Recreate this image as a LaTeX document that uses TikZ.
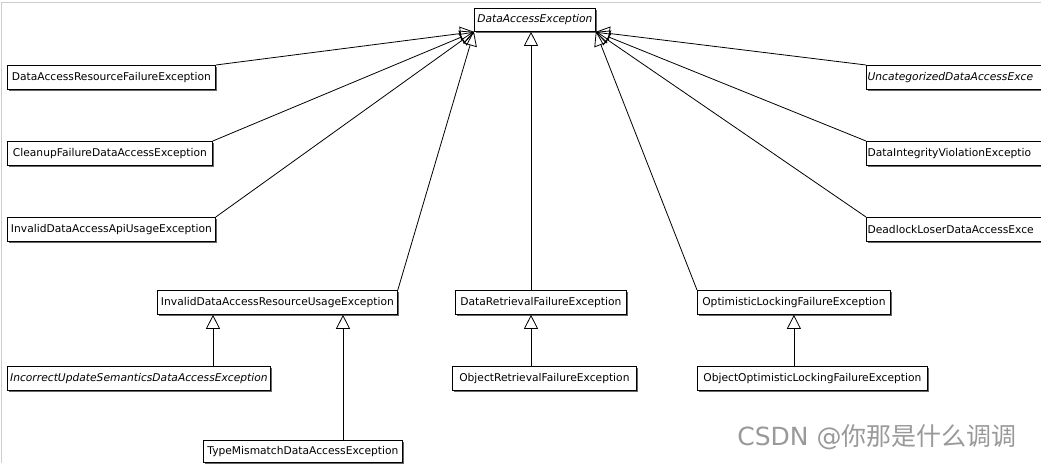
\documentclass[tikz,border=0pt]{standalone}
\usepackage{fontspec}
\setmainfont{DejaVu Sans}
\newfontfamily\cjk{Noto Sans CJK SC}
\usetikzlibrary{arrows.meta,shadows}

\begin{document}
\begin{tikzpicture}[
    x=1pt, y=-1pt,
    cls/.style={draw, fill=white, anchor=north west, minimum height=24pt,
        inner sep=1.2pt, line width=0.8pt, font=\fontsize{10.7}{12}\selectfont,
        general shadow={fill=black!60, shadow xshift=1.5pt, shadow yshift=-1.5pt}},
    abstract/.style={cls, font=\fontsize{10.7}{12}\selectfont\itshape},
    cut/.style={text width=216pt, align=left},
    inherit/.style={-{Triangle[open, length=14pt, width=14pt]}, line width=0.8pt}
]
    \useasboundingbox (0,0) rectangle (1041,463);
    \clip (0,0) rectangle (1041,463);

    % frame of the screenshot
    \draw[black!20, line width=1.2pt] (1.5,463) -- (1.5,2.5) -- (1041,2.5);

    % root
    \node[abstract, minimum width=121pt, minimum height=23pt] (DAE) at (474,8) {DataAccessException};

    % left column
    \node[cls, minimum width=208pt] (DARF) at (7,65) {DataAccessResourceFailureException};
    \node[cls, minimum width=205pt] (CFDA) at (7,141) {CleanupFailureDataAccessException};
    \node[cls, minimum width=208pt] (IDAU) at (7,217) {InvalidDataAccessApiUsageException};

    % right column, cut off by the screenshot
    \node[abstract, cut] (UDAE) at (866,65) {UncategorizedDataAccessExce};
    \node[cls, cut] (DIVE) at (866,141) {DataIntegrityViolationExceptio};
    \node[cls, cut] (DLDA) at (866,217) {DeadlockLoserDataAccessExce};

    % middle row
    \node[cls, minimum width=240pt] (IDRU) at (157,290) {InvalidDataAccessResourceUsageException};
    \node[cls, minimum width=171pt] (DRFE) at (455,290) {DataRetrievalFailureException};
    \node[cls, minimum width=193pt] (OLFE) at (697,290) {OptimisticLockingFailureException};

    % lower rows
    \node[abstract, minimum width=263pt] (IUSD) at (7,366) {IncorrectUpdateSemanticsDataAccessException};
    \node[cls, minimum width=184pt] (ORFE) at (452,366) {ObjectRetrievalFailureException};
    \node[cls, minimum width=230pt] (OOLF) at (697,366) {ObjectOptimisticLockingFailureException};
    \node[cls, minimum width=199pt, minimum height=22pt] (TMDA) at (203,440) {TypeMismatchDataAccessException};

    \coordinate (C1) at (213,0);
    \coordinate (C2) at (343,0);
    \coordinate (C3) at (531,0);

    \draw[inherit] (DARF.north east) -- (DAE.south west);
    \draw[inherit] (CFDA.north east) -- (DAE.south west);
    \draw[inherit] (IDAU.north east) -- (DAE.south west);
    \draw[inherit] (IDRU.north east) -- (DAE.south west);
    \draw[inherit] (C3 |- DRFE.north) -- (C3 |- DAE.south);
    \draw[inherit] (OLFE.north west) -- (DAE.south east);
    \draw[inherit] (UDAE.north west) -- (DAE.south east);
    \draw[inherit] (DIVE.north west) -- (DAE.south east);
    \draw[inherit] (DLDA.north west) -- (DAE.south east);

    \draw[inherit] (C1 |- IUSD.north) -- (C1 |- IDRU.south);
    \draw[inherit] (C2 |- TMDA.north) -- (C2 |- IDRU.south);
    \draw[inherit] (C3 |- ORFE.north) -- (C3 |- DRFE.south);
    \draw[inherit] (OOLF.north -| OLFE.south) -- (OLFE.south);

    % watermark
    \node[text=black!40, font=\fontsize{25}{27}\selectfont] (WM) at (877,437) {CSDN @{\cjk 你那是什么调调}};
\end{tikzpicture}
\end{document}
